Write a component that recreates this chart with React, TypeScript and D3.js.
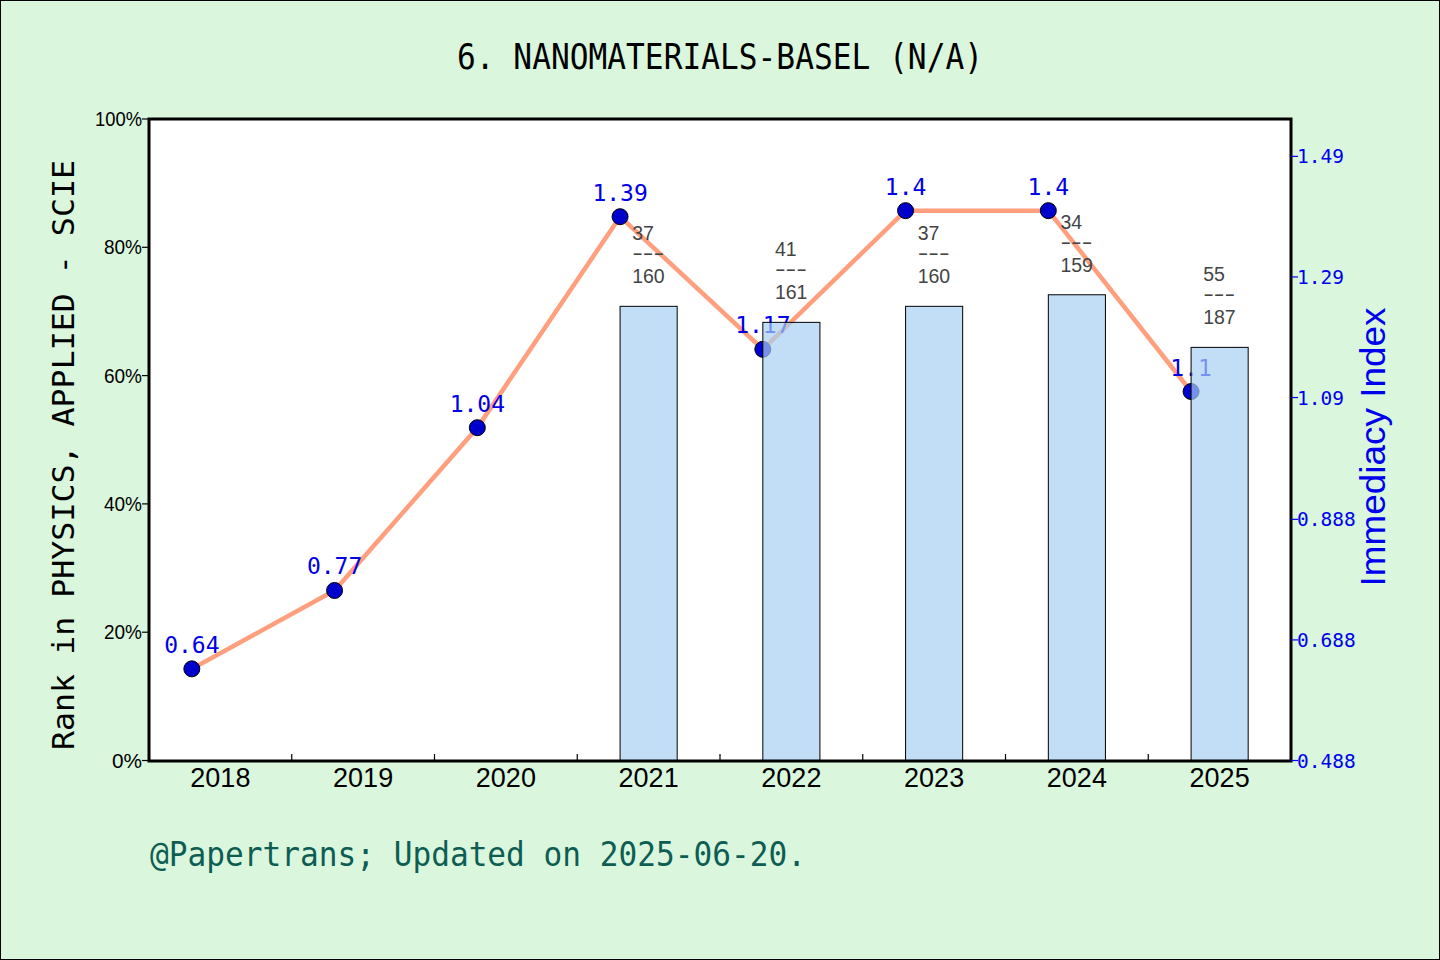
import React, { useEffect, useRef } from 'react';
import * as d3 from 'd3';

const years = ['2018', '2019', '2020', '2021', '2022', '2023', '2024', '2025'];
const immediacy = [0.64, 0.77, 1.04, 1.39, 1.17, 1.4, 1.4, 1.1];
const immediacyLabels = ['0.64', '0.77', '1.04', '1.39', '1.17', '1.4', '1.4', '1.1'];
const barYears = ['2021', '2022', '2023', '2024', '2025'];
const barPct = [70.8, 68.3, 70.8, 72.6, 64.4];
const ranks = [37, 41, 37, 34, 55];
const totals = [160, 161, 160, 159, 187];
const leftTicks = [0, 20, 40, 60, 80, 100];
const rightTicks = [0.488, 0.688, 0.888, 1.09, 1.29, 1.49];

const MONO = "'DejaVu Sans Mono', monospace";
const SANS = "'Liberation Sans', Arial, sans-serif";

const App: React.FC = () => {
  const svgRef = useRef<SVGSVGElement>(null);

  useEffect(() => {
    if (!svgRef.current) return;
    const W = 1440;
    const H = 960;
    const plot = { left: 149, right: 1291, top: 119, bottom: 761 };

    const svg = d3.select(svgRef.current);
    svg.selectAll('*').remove();

    // background + outer frame
    svg.append('rect').attr('x', 0.5).attr('y', 0.5).attr('width', W - 1).attr('height', H - 1)
      .attr('fill', '#daf7de').attr('stroke', '#000').attr('stroke-width', 1);

    svg.append('rect')
      .attr('x', plot.left).attr('y', plot.top)
      .attr('width', plot.right - plot.left).attr('height', plot.bottom - plot.top)
      .attr('fill', '#fff');

    const x = d3.scaleBand<string>().domain(years).range([plot.left, plot.right]).padding(0);
    const yLeft = d3.scaleLinear().domain([0, 100]).range([plot.bottom - 0.5, plot.top]);
    const yRight = d3.scaleLinear().domain([0.488, 1.552]).range([plot.bottom - 0.5, plot.top]);
    const bw = x.bandwidth() * 0.4;
    const cx = (yr: string) => (x(yr) as number) + x.bandwidth() / 2;
    const px = (yr: string) => cx(yr) - bw / 2;

    // title
    svg.append('text')
      .attr('x', 720).attr('y', 69)
      .attr('text-anchor', 'middle')
      .attr('font-family', MONO).attr('font-size', 35)
      .attr('textLength', 526).attr('lengthAdjust', 'spacingAndGlyphs')
      .attr('fill', '#000')
      .text('6. NANOMATERIALS-BASEL (N/A)');

    // line
    const line = d3.line<number>()
      .x((_, i) => px(years[i]))
      .y(d => yRight(d));
    svg.append('path')
      .datum(immediacy)
      .attr('fill', 'none')
      .attr('stroke', '#ff9f7d')
      .attr('stroke-width', 4.5)
      .attr('stroke-linejoin', 'round')
      .attr('d', line);

    svg.append('g').selectAll('circle')
      .data(immediacy)
      .join('circle')
      .attr('cx', (_, i) => px(years[i]))
      .attr('cy', d => yRight(d))
      .attr('r', 8)
      .attr('fill', '#0000cc')
      .attr('stroke', '#000')
      .attr('stroke-width', 1);

    svg.append('g').selectAll('text')
      .data(immediacy)
      .join('text')
      .attr('x', (_, i) => px(years[i]))
      .attr('y', d => yRight(d) - 16)
      .attr('text-anchor', 'middle')
      .attr('font-family', MONO).attr('font-size', 23)
      .attr('fill', '#0000e6')
      .text((_, i) => immediacyLabels[i]);

    // bars
    svg.append('g').selectAll('rect')
      .data(barPct)
      .join('rect')
      .attr('x', (_, i) => cx(barYears[i]) - bw / 2)
      .attr('y', d => yLeft(d))
      .attr('width', bw)
      .attr('height', d => yLeft(0) - yLeft(d))
      .attr('fill', '#a8d0f4')
      .attr('fill-opacity', 0.7)
      .attr('stroke', '#000')
      .attr('stroke-width', 1);

    // rank labels
    barPct.forEach((v, i) => {
      const top = yLeft(v);
      const tx = cx(barYears[i]) - 16.5;
      const g = svg.append('g')
        .attr('font-family', SANS).attr('font-size', 19.5).attr('fill', '#444');
      g.append('text').attr('x', tx).attr('y', top - 66).text(String(ranks[i]));
      g.append('text').attr('x', tx).attr('y', top - 46)
        .attr('textLength', 32).attr('lengthAdjust', 'spacingAndGlyphs').text('---');
      g.append('text').attr('x', tx).attr('y', top - 23).text(String(totals[i]));
    });

    // frame
    svg.append('rect')
      .attr('x', plot.left).attr('y', plot.top)
      .attr('width', plot.right - plot.left).attr('height', plot.bottom - plot.top)
      .attr('fill', 'none').attr('stroke', '#000').attr('stroke-width', 3);

    // left axis
    const la = svg.append('g');
    leftTicks.forEach(t => {
      la.append('line')
        .attr('x1', plot.left - 7).attr('x2', plot.left)
        .attr('y1', yLeft(t)).attr('y2', yLeft(t))
        .attr('stroke', '#000').attr('stroke-width', 1.2);
      la.append('text')
        .attr('x', plot.left - 7).attr('y', yLeft(t) + 7)
        .attr('text-anchor', 'end')
        .attr('font-family', SANS).attr('font-size', 20)
        .attr('textLength', t === 100 ? 47 : t === 0 ? 30 : 38)
        .attr('lengthAdjust', 'spacingAndGlyphs')
        .attr('fill', '#000')
        .text(`${t}%`);
    });

    // right axis
    const ra = svg.append('g');
    rightTicks.forEach(t => {
      ra.append('line')
        .attr('x1', plot.right).attr('x2', plot.right + 7)
        .attr('y1', yRight(t)).attr('y2', yRight(t))
        .attr('stroke', '#0000ee').attr('stroke-width', 1.2);
      ra.append('text')
        .attr('x', plot.right + 6).attr('y', yRight(t) + 7)
        .attr('font-family', MONO).attr('font-size', 19.5)
        .attr('fill', '#0000ee')
        .text(String(t));
    });

    // bottom axis
    const ba = svg.append('g');
    years.forEach((yr, i) => {
      if (i > 0) {
        const bx = x(yr) as number;
        ba.append('line')
          .attr('x1', bx).attr('x2', bx)
          .attr('y1', plot.bottom - 7).attr('y2', plot.bottom)
          .attr('stroke', '#000').attr('stroke-width', 1.2);
      }
      ba.append('text')
        .attr('x', cx(yr)).attr('y', 787)
        .attr('text-anchor', 'middle')
        .attr('font-family', SANS).attr('font-size', 27)
        .attr('fill', '#000')
        .text(yr);
    });

    // axis titles
    svg.append('text')
      .attr('transform', 'translate(74,455) rotate(-90)')
      .attr('text-anchor', 'middle')
      .attr('font-family', MONO).attr('font-size', 30)
      .attr('textLength', 590).attr('lengthAdjust', 'spacingAndGlyphs')
      .attr('fill', '#000')
      .text('Rank in PHYSICS, APPLIED - SCIE');

    svg.append('text')
      .attr('transform', 'translate(1385,447) rotate(-90)')
      .attr('text-anchor', 'middle')
      .attr('font-family', SANS).attr('font-size', 35)
      .attr('textLength', 279).attr('lengthAdjust', 'spacingAndGlyphs')
      .attr('fill', '#0000ee')
      .text('Immediacy Index');

    // footer
    svg.append('text')
      .attr('x', 150).attr('y', 866)
      .attr('font-family', MONO).attr('font-size', 33)
      .attr('textLength', 656).attr('lengthAdjust', 'spacingAndGlyphs')
      .attr('fill', '#0e5d52')
      .text('@Papertrans; Updated on 2025-06-20.');
  }, []);

  return (
    <svg
      ref={svgRef}
      width={1440}
      height={960}
      style={{ position: 'absolute', left: 0, top: 0, display: 'block' }}
    />
  );
};

export default App;
